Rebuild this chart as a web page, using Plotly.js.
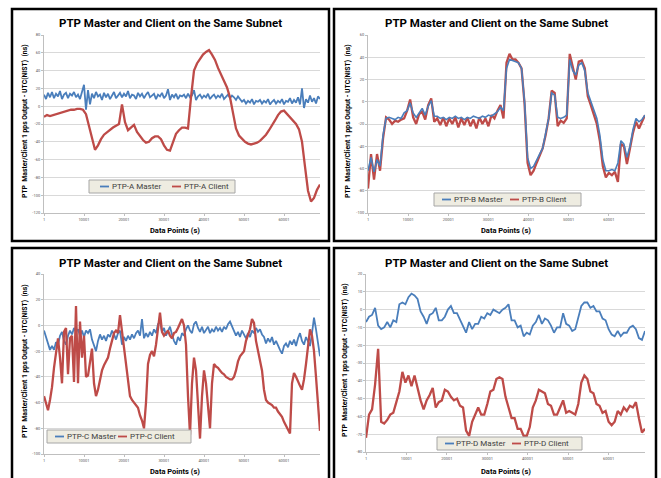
<!DOCTYPE html>
<html><head><meta charset="utf-8">
<script src="https://cdn.plot.ly/plotly-3.0.1.min.js"></script>
<style>html,body{margin:0;padding:0;background:#fff}#chart{width:661px;height:478px}</style>
</head><body><div id="chart"></div>
<script>
// ---------- text ----------
const CHART_TITLE = "PTP Master and Client on the Same Subnet";
const X_TITLE = "Data Points (s)";
const Y_TITLE = "PTP  Master/Client 1 pps Output - UTC(NIST)  (ns)";
const X_TICKS = [1, 10001, 20001, 30001, 40001, 50001, 60001];
const X_LAST = 69001;
const A_Y_TICKS = [-120, -100, -80, -60, -40, -20, 0, 20, 40, 60, 80];
const B_Y_TICKS = [-100, -80, -60, -40, -20, 0, 20, 40, 60];
const C_Y_TICKS = [-100, -80, -60, -40, -20, 0, 20, 40];
const D_Y_TICKS = [-80, -70, -60, -50, -40, -30, -20, -10, 0, 10, 20];
const SERIES_NAMES = {
  A: ["PTP-A Master", "PTP-A Client"], B: ["PTP-B Master", "PTP-B Client"],
  C: ["PTP-C Master", "PTP-C Client"], D: ["PTP-D Master", "PTP-D Client"]
};

// ---------- values (ns), sampled every STEP data points ----------
const A_STEP_MASTER = 500, A_STEP_CLIENT = 750;
const A_MASTER = [13,8,15,10,16,9,14,11,17,8, 13,15,9,14,12,16,10,13,8,15,
  24,-4,18,2,14,9,16,11,13,7, 15,10,14,8,13,16,9,12,15,10,
  14,11,17,9,13,12,8,15,11,14, 9,13,16,10,12,14,8,13,11,15,
  9,12,19,7,13,10,14,8,12,11, 13,9,14,10,12,18,7,11,13,9,
  12,10,14,8,11,13,9,12,10,14, 8,11,13,9,12,10,7,11,8,5,
  7,3,6,4,8,2,6,5,7,3, 6,4,8,2,5,7,3,6,4,8,
  2,6,5,9,3,7,4,10,2,20, -2,8,4,12,5,9,3,11,8];
const A_CLIENT = [-12,-10,-11,-10,-9,-8,-7,-6,-5,-4, -4,-3,-3,-4,-9,-22,-37,-49,-44,-37,
  -32,-29,-27,-24,-22,-20,2,-18,-27,-24, -21,-29,-34,-38,-41,-40,-36,-34,-34,-37,
  -44,-49,-50,-40,-31,-27,-24,-24,-25,10, 40,48,53,58,61,63,58,52,43,35,
  27,21,10,-8,-25,-33,-37,-40,-42,-43, -42,-41,-39,-36,-32,-27,-22,-16,-10,-6,
  -5,-9,-13,-17,-20,-26,-40,-68,-95,-107, -103,-94,-88];

const B_STEP = 750;
const B_MASTER = [-62,-50,-63,-52,-58,-30,-15,-14,-15,-16, -14,-15,-10,-8,-1,-10,-14,-10,-6,-12,
  -4,1,-13,-13,-15,-14,-16,-14,-15,-13, -15,-14,-16,-14,-15,-13,-14,-15,-13,-14,
  -12,-13,-11,-9,-5,-8,30,38,37,36, 35,30,0,-50,-60,-58,-52,-47,-42,-30,
  -15,8,6,-14,-15,-14,-12,38,28,24, 33,35,28,8,0,-8,-15,-30,-52,-62,
  -62,-61,-62,-55,-35,-38,-50,-40,-25,-15, -18,-16,-12];
const B_CLIENT = [-78,-47,-70,-47,-62,-33,-14,-16,-20,-17, -18,-16,-15,-8,2,-14,-20,-11,-9,-16,
  -3,3,-18,-15,-21,-14,-22,-15,-20,-14, -23,-15,-21,-14,-22,-16,-24,-14,-20,-15,
  -22,-12,-15,-8,-3,-15,35,43,38,38, 35,30,-2,-55,-66,-62,-55,-48,-42,-30,
  -15,10,8,-22,-17,-19,-15,43,30,20, 36,37,30,5,-3,-12,-20,-35,-58,-68,
  -64,-66,-63,-72,-38,-40,-56,-42,-28,-18, -24,-18,-12];

const C_STEP = 500;
const C_MASTER = [-4,-9,-13,-19,-16,-19,-13,-15,-8,-5, -12,-15,-8,-4,-7,-2,-5,-3,-8,-4,
  -9,-4,-6,-3,-11,-15,-20,-12,-7,-11, -8,-12,-7,-9,-4,-7,-11,-6,-4,-15,
  -9,-12,-8,-11,-7,-10,-6,-4,-8,5, -10,-6,-9,-5,-8,-3,-6,1,3,-5,
  -2,-8,-4,-1,-7,-12,-15,-9,-12,-6, -8,-3,0,-4,-6,1,3,-2,-5,-1,
  -6,-3,-1,-6,-3,-5,-1,-4,-2,-5, -1,-3,1,3,-1,-4,-8,-5,-9,-4,
  -7,-10,-6,-9,-4,-6,-2,-5,-3,-7, -9,-14,-10,-13,-9,-15,-12,-16,-19,-22,
  -16,-14,-17,-12,-15,-11,-16,-10,-6,-12, -15,-9,-12,-16,-6,6,-3,-15,-24];
const C_CLIENT = [-55,-61,-66,-58,-48,-33,-20,-10,-25,-45, -5,-2,-38,-10,-8,-44,15,-45,3,-25,
  -8,-40,-39,-30,-18,-45,-55,-50,-42,-35, -31,-28,-25,-18,-12,-6,-4,-6,8,-5,
  -14,-27,-40,-55,-58,-60,-62,-64,-70,-74, -80,-60,-30,-23,-20,-24,-15,-2,10,-5,
  -8,-6,-4,-8,-10,-6,-5,-2,1,5, 0,-15,-55,-85,-45,-25,-35,-62,-88,-55,
  -35,-45,-62,-80,-45,-30,-32,-33,-35,-37, -38,-40,-41,-42,-42,-40,-35,-28,-24,-22,
  -20,-12,-8,-3,5,2,-12,-20,-26,-35, -50,-58,-60,-61,-62,-64,-64,-67,-69,-71,
  -75,-78,-82,-84,-45,-37,-40,-44,-47,-50, -42,-30,-18,-3,-8,-20,-40,-62,-82];

const D_STEP = 750;
const D_MASTER = [-7,-4,-3,1,-9,-11,-10,-7,-10,-6, -7,3,4,3,7,9,8,6,-1,-4,
  -8,-3,-2,1,-6,-6,-4,0,2,-2, -2,-6,-9,-13,-7,-11,-8,-8,-4,-5,
  -2,-3,0,-1,-2,0,1,3,-6,-6, -10,-9,-15,-13,-14,-9,-7,-3,-8,-5,
  -6,-9,-13,-10,-10,-2,-8,-9,-12,-11, -5,2,4,4,1,2,-1,-1,-5,-6,
  -11,-14,-15,-12,-15,-13,-13,-10,-9,-11, -16,-17,-12];
const D_CLIENT = [-72,-59,-56,-42,-22,-63,-64,-62,-59,-58, -52,-46,-35,-41,-37,-43,-37,-44,-51,-56,
  -51,-48,-44,-55,-52,-51,-45,-46,-49,-51, -50,-54,-55,-68,-71,-63,-59,-55,-59,-59,
  -53,-46,-45,-39,-38,-39,-49,-55,-61,-61, -67,-67,-71,-71,-66,-55,-51,-45,-46,-47,
  -53,-54,-59,-59,-55,-51,-58,-57,-58,-59, -53,-41,-37,-39,-46,-47,-53,-54,-58,-57,
  -63,-65,-63,-57,-59,-55,-57,-54,-55,-52, -61,-69,-67];

// ---------- styling / layout ----------
const BLUE = "#4a7ebb", RED = "#be4b48";
const W = 661, H = 478;
const px = x => x / W, py = y => 1 - y / H;
function sampleX(n, step) { const a = []; for (let i = 0; i < n; i++) a.push(1 + i * step); return a; }

const panels = [
  {k:"A", m:A_MASTER, c:A_CLIENT, ms:A_STEP_MASTER, cs:A_STEP_CLIENT, yt:A_Y_TICKS, mw:1.8,
   plot:[44,320,35,213], frame:[12,329,9,241], tx:171, ty:23, ytx:25, xtx:175, xty:230,
   leg:[89,235,180,193], d1:11, d2:83, blueTop:false},
  {k:"B", m:B_MASTER, c:B_CLIENT, ms:B_STEP, cs:B_STEP, yt:B_Y_TICKS, mw:1.6,
   plot:[368,645,35,213], frame:[334,656,9,241], tx:496, ty:23, ytx:348, xtx:506, xty:230,
   leg:[434,581,193,206], d1:8, d2:76, blueTop:true},
  {k:"C", m:C_MASTER, c:C_CLIENT, ms:C_STEP, cs:C_STEP, yt:C_Y_TICKS, mw:1.8,
   plot:[44,320,274,454], frame:[12,329,248,490], tx:171, ty:263, ytx:25, xtx:175, xty:471,
   leg:[47,191,430,443], d1:8, d2:71, blueTop:false},
  {k:"D", m:D_MASTER, c:D_CLIENT, ms:D_STEP, cs:D_STEP, yt:D_Y_TICKS, mw:1.8,
   plot:[366,645,274,452], frame:[334,656,248,490], tx:496, ty:263, ytx:345, xtx:506, xty:471,
   leg:[437,582,437,450], d1:8, d2:75, blueTop:true}
];

const traces = [], annotations = [], shapes = [];
const layout = {
  width: W, height: H, autosize: false, margin: {l:0, r:0, t:0, b:0},
  paper_bgcolor: "#ffffff", plot_bgcolor: "#ffffff",
  font: {family: "Roboto, 'Liberation Sans', sans-serif", color: "#404040"},
  showlegend: false
};

panels.forEach((p, i) => {
  const n = i + 1, sx = n === 1 ? "" : String(n);
  const mTrace = {x: sampleX(p.m.length, p.ms), y: p.m, type: "scatter", mode: "lines",
    name: SERIES_NAMES[p.k][0], line: {color: BLUE, width: p.mw}, xaxis: "x" + sx, yaxis: "y" + sx,
    hoverinfo: "skip"};
  const cTrace = {x: sampleX(p.c.length, p.cs), y: p.c, type: "scatter", mode: "lines",
    name: SERIES_NAMES[p.k][1], line: {color: RED, width: 2.3}, xaxis: "x" + sx, yaxis: "y" + sx,
    hoverinfo: "skip"};
  if (p.blueTop) traces.push(cTrace, mTrace); else traces.push(mTrace, cTrace);

  layout["xaxis" + sx] = {
    domain: [px(p.plot[0]), px(p.plot[1])], anchor: "y" + sx,
    range: [1, X_LAST], tickvals: X_TICKS, ticktext: X_TICKS.map(String),
    tickfont: {size: 4, color: "#595959"}, ticks: "outside", ticklen: 2, tickcolor: "#bfbfbf",
    showgrid: false, zeroline: false, showline: true, linecolor: "#bfbfbf", linewidth: 1, fixedrange: true
  };
  layout["yaxis" + sx] = {
    domain: [py(p.plot[3]), py(p.plot[2])], anchor: "x" + sx,
    range: [p.yt[0], p.yt[p.yt.length - 1]], tickvals: p.yt, ticktext: p.yt.map(String),
    tickfont: {size: 4, color: "#595959"}, ticks: "outside", ticklen: 2, tickcolor: "#bfbfbf",
    showgrid: true, gridcolor: "#d9d9d9", gridwidth: 1, zeroline: false,
    showline: true, linecolor: "#bfbfbf", linewidth: 1, fixedrange: true
  };

  // titles
  annotations.push(
    {text: "<b>" + CHART_TITLE + "</b>", xref: "paper", yref: "paper", x: px(p.tx), y: py(p.ty),
     xanchor: "center", yanchor: "middle", showarrow: false, font: {size: 11.5, color: "#000000"}},
    {text: "<b>" + X_TITLE + "</b>", xref: "paper", yref: "paper", x: px(p.xtx), y: py(p.xty),
     xanchor: "center", yanchor: "middle", showarrow: false, font: {size: 7.5, color: "#000000"}},
    {text: "<b>" + Y_TITLE + "</b>", xref: "paper", yref: "paper", x: px(p.ytx),
     y: py((p.plot[2] + p.plot[3]) / 2 - 3), xanchor: "center", yanchor: "middle", textangle: -90,
     showarrow: false, font: {size: 6.8, color: "#000000"}}
  );
  // frame
  shapes.push({type: "rect", xref: "paper", yref: "paper",
    x0: px(p.frame[0]), x1: px(p.frame[1]), y0: py(p.frame[3]), y1: py(p.frame[2]),
    line: {color: "#000000", width: 2.5}, fillcolor: "rgba(0,0,0,0)", layer: "above"});
  // legend box with line keys and series names
  const lg = p.leg, cy = (lg[2] + lg[3]) / 2;
  shapes.push({type: "rect", xref: "paper", yref: "paper",
    x0: px(lg[0]), x1: px(lg[1]), y0: py(lg[3]), y1: py(lg[2]),
    line: {color: "#a6a6a6", width: 1}, fillcolor: "#eeece1", layer: "above"});
  [[p.d1, BLUE, SERIES_NAMES[p.k][0]], [p.d2, RED, SERIES_NAMES[p.k][1]]].forEach(([d, col, name]) => {
    shapes.push({type: "line", xref: "paper", yref: "paper",
      x0: px(lg[0] + d), x1: px(lg[0] + d + 9), y0: py(cy), y1: py(cy),
      line: {color: col, width: 1.8}, layer: "above"});
    annotations.push({text: name, xref: "paper", yref: "paper", x: px(lg[0] + d + 9.5), y: py(cy),
      xanchor: "left", yanchor: "middle", showarrow: false, font: {size: 8, color: "#404040"}});
  });
});
layout.annotations = annotations;
layout.shapes = shapes;

Plotly.newPlot("chart", traces, layout, {staticPlot: true, displayModeBar: false});
</script></body></html>
